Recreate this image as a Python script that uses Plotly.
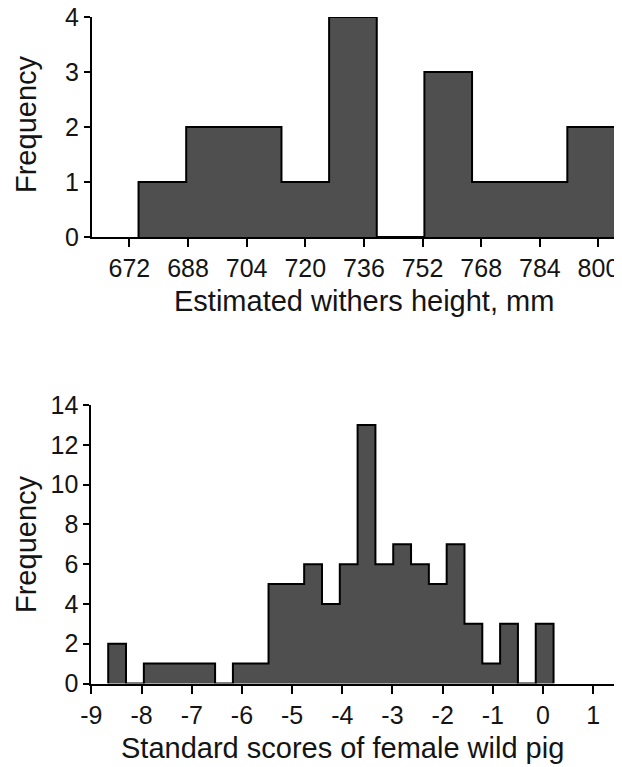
import plotly.graph_objects as go

# ---- data ----
top_bin_start = 674.5
top_bin_width = 13.0
top_counts = [1, 2, 2, 1, 4, 0, 3, 1, 1, 2]
top_ticks = [672, 688, 704, 720, 736, 752, 768, 784, 800]
top_tick_labels = ["672", "688", "704", "720", "736", "752", "768", "784", "800"]
top_yticks = [0, 1, 2, 3, 4]

bot_bin_start = -8.665
bot_bin_width = 0.355
bot_counts = [2, 0, 1, 1, 1, 1, 0, 1, 1, 5, 5, 6, 4, 6, 13, 6, 7, 6, 5, 7, 3, 1, 3, 0, 3]
bot_ticks = [-9, -8, -7, -6, -5, -4, -3, -2, -1, 0, 1]
bot_tick_labels = ["-9", "-8", "-7", "-6", "-5", "-4", "-3", "-2", "-1", "0", "1"]
bot_yticks = [0, 2, 4, 6, 8, 10, 12, 14]

top_xtitle = "Estimated withers height, mm"
bot_xtitle = "Standard scores of female wild pig"
ytitle = "Frequency"

# page body has an 8px margin; the figure is sized to fill the rest of the window
OFF = 8
W, H = 622 - OFF, 767 - OFF
FONT = "Liberation Sans, Arial, sans-serif"
BAR = "#4f4f4f"
INK = "#141414"


def hist_traces(start, width, counts, xa, ya):
    edges = [start + i * width for i in range(len(counts) + 1)]
    centers = [start + (i + 0.5) * width for i in range(len(counts))]
    bar = go.Bar(x=centers, y=counts, width=[width] * len(counts),
                 marker=dict(color=BAR, line=dict(width=0)),
                 xaxis=xa, yaxis=ya, showlegend=False, hoverinfo="skip")
    ox = [edges[0]] + edges[:-1] + [edges[-1], edges[-1]]
    oy = [0] + counts + [counts[-1], 0]
    outline = go.Scatter(x=ox, y=oy, mode="lines", line=dict(color="#000", width=2, shape="hv"),
                         xaxis=xa, yaxis=ya, showlegend=False, hoverinfo="skip", cliponaxis=False)
    return [bar, outline]


fig = go.Figure()
for t in hist_traces(top_bin_start, top_bin_width, top_counts, "x", "y"):
    fig.add_trace(t)
for t in hist_traces(bot_bin_start, bot_bin_width, bot_counts, "x2", "y2"):
    fig.add_trace(t)


def px_x(p):
    return min(1.0, (p - OFF) / W)


def px_y(p):
    return (H - (p - OFF)) / H


axis_common = dict(showline=True, linecolor="#000", linewidth=2, ticks="outside",
                   tickcolor="#000", tickwidth=2, showgrid=False, zeroline=False,
                   automargin=False, ticklabeloverflow="allow",
                   tickfont=dict(family=FONT, size=25, color=INK))

fig.update_layout(
    width=W, height=H,
    margin=dict(l=0, r=0, t=0, b=0, pad=0, autoexpand=False),
    paper_bgcolor="white", plot_bgcolor="white",
    bargap=0,
    xaxis=dict(domain=[px_x(92), px_x(619)], range=[661.8, 805.6], tickvals=top_ticks,
               ticktext=top_tick_labels, ticklen=8, anchor="y", **axis_common),
    yaxis=dict(domain=[px_y(237), px_y(17)], range=[0, 4], tickvals=top_yticks,
               ticklen=6, anchor="x", **axis_common),
    xaxis2=dict(domain=[px_x(91.4), 1.0], range=[-9, 1.574], tickvals=bot_ticks,
                ticktext=bot_tick_labels, ticklen=8, anchor="y2", **axis_common),
    yaxis2=dict(domain=[px_y(683.5), px_y(405)], range=[0, 14], tickvals=bot_yticks,
                ticklen=6, anchor="x2", **axis_common),
)

title_font = dict(family=FONT, size=29, color=INK)
fig.add_annotation(text=top_xtitle, x=px_x(364), y=px_y(301), xref="paper", yref="paper",
                   xanchor="center", yanchor="middle", showarrow=False, font=title_font)
fig.add_annotation(text=bot_xtitle, x=px_x(342), y=px_y(748), xref="paper", yref="paper",
                   xanchor="center", yanchor="middle", showarrow=False, font=title_font)
fig.add_annotation(text=ytitle, x=px_x(26), y=px_y(124), xref="paper", yref="paper",
                   xanchor="center", yanchor="middle", showarrow=False, textangle=-90, font=title_font)
fig.add_annotation(text=ytitle, x=px_x(26), y=px_y(544), xref="paper", yref="paper",
                   xanchor="center", yanchor="middle", showarrow=False, textangle=-90, font=title_font)

fig.write_html("out.html")
